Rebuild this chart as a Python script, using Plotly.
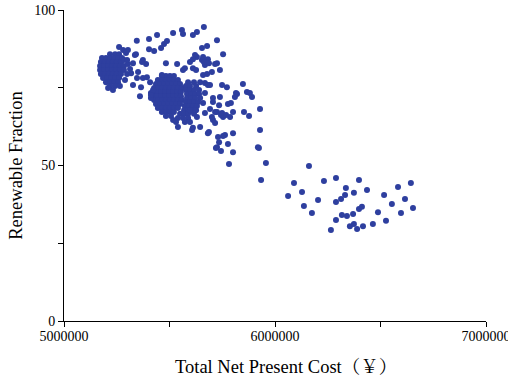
import plotly.graph_objects as go

# Total net present cost (¥) and renewable fraction (%)
# Group A: dense cluster near 5.22M
npc_a = [5218000, 5242000, 5261000,
         5180000, 5199000, 5218000, 5237000, 5256000, 5275000,
         5175000, 5194000, 5213000, 5232000, 5251000, 5270000,
         5171000, 5190000, 5209000, 5227000, 5246000, 5265000, 5284000,
         5171000, 5190000, 5209000, 5227000, 5246000, 5265000, 5284000,
         5175000, 5194000, 5213000, 5232000, 5251000, 5270000,
         5185000, 5204000, 5223000, 5242000, 5261000,
         5199000, 5218000, 5237000, 5256000,
         5218000, 5242000,
         5261000, 5280000, 5294000, 5284000, 5303000, 5299000, 5289000, 5265000, 5232000, 5209000]
rf_a = [85.8, 85.8, 85.8,
        84.6, 84.6, 84.6, 84.6, 84.6, 84.6,
        83.3, 83.3, 83.3, 83.3, 83.3, 83.3,
        82.0, 82.0, 82.0, 82.0, 82.0, 82.0, 82.0,
        80.7, 80.7, 80.7, 80.7, 80.7, 80.7, 80.7,
        79.4, 79.4, 79.4, 79.4, 79.4, 79.4,
        78.1, 78.1, 78.1, 78.1, 78.1,
        76.8, 76.8, 76.8, 76.8,
        75.6, 75.6,
        88.1, 87.1, 86.2, 83.9, 82.6, 79.4, 77.5, 75.6, 74.3, 74.9]

# Group B: dense cluster near 5.49M
npc_b = [5464000, 5483000, 5502000, 5521000,
         5445000, 5464000, 5483000, 5502000, 5521000, 5540000,
         5436000, 5455000, 5474000, 5493000, 5512000, 5531000, 5550000,
         5427000, 5445000, 5464000, 5483000, 5502000, 5521000, 5540000, 5559000,
         5422000, 5441000, 5460000, 5479000, 5498000, 5517000, 5536000, 5554000,
         5422000, 5441000, 5460000, 5479000, 5498000, 5517000, 5536000, 5554000,
         5427000, 5445000, 5464000, 5483000, 5502000, 5521000, 5540000, 5559000,
         5436000, 5455000, 5474000, 5493000, 5512000, 5531000, 5550000,
         5445000, 5464000, 5483000, 5502000, 5521000, 5540000,
         5464000, 5483000, 5502000, 5521000,
         5483000, 5507000]
rf_b = [78.8, 78.8, 78.8, 78.8,
        77.5, 77.5, 77.5, 77.5, 77.5, 77.5,
        76.2, 76.2, 76.2, 76.2, 76.2, 76.2, 76.2,
        74.9, 74.9, 74.9, 74.9, 74.9, 74.9, 74.9, 74.9,
        73.6, 73.6, 73.6, 73.6, 73.6, 73.6, 73.6, 73.6,
        72.3, 72.3, 72.3, 72.3, 72.3, 72.3, 72.3, 72.3,
        71.1, 71.1, 71.1, 71.1, 71.1, 71.1, 71.1, 71.1,
        69.8, 69.8, 69.8, 69.8, 69.8, 69.8, 69.8,
        68.5, 68.5, 68.5, 68.5, 68.5, 68.5,
        67.2, 67.2, 67.2, 67.2,
        65.9, 65.9]

# Group C: cluster near 5.6M
npc_c = [5588000, 5616000,
         5578000, 5597000, 5626000,
         5578000, 5597000, 5616000, 5640000,
         5583000, 5602000, 5621000, 5640000,
         5583000, 5602000, 5621000, 5645000,
         5578000, 5597000, 5616000, 5635000,
         5573000, 5592000, 5611000, 5630000,
         5569000, 5588000, 5607000, 5626000,
         5550000, 5569000, 5588000, 5616000,
         5540000, 5564000, 5588000,
         5531000, 5573000, 5597000]
rf_c = [76.8, 76.8,
        75.6, 75.6, 75.6,
        74.3, 74.3, 74.3, 74.3,
        73.0, 73.0, 73.0, 73.0,
        71.7, 71.7, 71.7, 71.7,
        70.4, 70.4, 70.4, 70.4,
        69.1, 69.1, 69.1, 69.1,
        67.8, 67.8, 67.8, 67.8,
        66.6, 66.6, 66.6, 66.6,
        65.3, 65.3, 65.3,
        64.0, 64.0, 64.0]

# Scattered solutions between 5.3M and 6.0M
npc_s = [5345000, 5403000, 5441000, 5474000, 5488000, 5517000, 5559000, 5564000, 5611000, 5630000,
         5663000, 5403000, 5427000, 5460000, 5341000, 5374000, 5389000, 5327000, 5318000, 5346000,
         5374000, 5327000, 5365000, 5360000, 5412000, 5412000, 5483000, 5536000, 5564000, 5597000,
         5630000, 5654000, 5678000, 5654000, 5725000, 5754000, 5725000, 5739000, 5678000, 5668000,
         5682000, 5645000, 5626000, 5772000, 5820000, 5848000, 5867000, 5881000, 5891000, 5853000,
         5877000, 5929000, 5929000, 5777000, 5754000, 5787000, 5725000, 5706000, 5687000, 5645000,
         5611000, 5540000, 5517000, 5597000, 5630000, 5730000, 5763000, 5801000, 5725000, 5919000,
         5464000, 5412000, 5791000, 5749000, 5815000, 5744000, 5716000, 5607000, 5754000, 5735000,
         5720000, 5744000, 5801000, 5924000, 5782000, 5957000, 5934000, 5682000, 5777000,
         5621000, 5611000, 5659000, 5682000, 5611000, 5668000, 5687000, 5701000, 5659000, 5573000,
         5716000, 5663000, 5692000, 5810000, 5739000, 5735000, 5706000, 5706000, 5668000, 5659000,
         5692000, 5716000, 5749000, 5768000, 5801000, 5668000, 5701000,
         5303000, 5336000, 5299000, 5370000, 5313000, 5351000, 5393000, 5408000, 5422000]
rf_s = [90.1, 90.7, 92.0, 89.1, 90.0, 92.6, 93.6, 92.3, 92.0, 92.9,
        94.5, 87.4, 86.8, 87.8, 85.8, 83.9, 82.6, 82.9, 79.7, 78.1,
        78.1, 75.9, 75.2, 72.3, 73.3, 71.7, 82.9, 82.6, 80.7, 83.3,
        84.9, 83.9, 88.4, 87.8, 90.3, 85.8, 82.9, 80.7, 79.4, 76.5,
        75.9, 76.8, 80.7, 75.2, 73.0, 76.2, 73.6, 73.3, 72.0, 67.2,
        65.9, 68.2, 61.4, 69.8, 65.6, 65.6, 67.2, 64.6, 60.8, 62.4,
        62.1, 62.4, 64.6, 67.8, 65.6, 59.2, 59.8, 60.4, 55.9, 55.9,
        79.1, 72.7, 70.1, 75.9, 73.3, 66.2, 63.7, 61.4, 59.5, 57.5,
        55.6, 54.7, 54.3, 55.6, 50.5, 50.8, 45.3, 60.4, 56.9,
        85.5, 84.2, 84.9, 84.2, 81.3, 82.3, 82.9, 80.1, 79.1, 81.3,
        82.6, 83.3, 75.9, 72.0, 72.0, 69.4, 71.7, 70.4, 73.3, 70.1,
        68.2, 67.2, 66.9, 66.2, 67.2, 66.9, 65.6,
        87.1, 85.5, 83.9, 83.3, 81.0, 80.1, 78.4, 76.8, 74.3]

# Lower-cost-tail solutions around 6.1M–6.7M
npc_l = [6161000, 6090000, 6062000, 6128000, 6137000, 6175000, 6232000, 6204000, 6289000, 6336000,
         6398000, 6436000, 6374000, 6332000, 6313000, 6289000, 6398000, 6412000, 6370000, 6341000,
         6317000, 6289000, 6265000, 6355000, 6374000, 6389000, 6417000, 6464000, 6488000, 6517000,
         6526000, 6554000, 6583000, 6597000, 6616000, 6644000, 6654000]
rf_l = [49.8, 44.4, 40.2, 41.5, 37.0, 34.7, 45.0, 38.9, 46.0, 42.8,
        45.3, 42.1, 41.2, 40.5, 39.2, 38.3, 36.0, 36.7, 34.4, 33.8,
        34.1, 32.5, 29.3, 30.5, 31.2, 29.6, 30.5, 31.2, 35.0, 40.5,
        32.2, 37.6, 43.1, 34.7, 39.2, 44.4, 36.3]

x_ticks = [5000000, 5500000, 6000000, 6500000, 7000000]
x_tick_text = ["5000000", "", "6000000", "", "7000000"]
y_ticks = [0, 25, 50, 75, 100]
y_tick_text = ["0", "", "50", "", "100"]
x_title = "Total Net Present Cost（￥）"
y_title = "Renewable Fraction"

x_all = npc_a + npc_b + npc_c + npc_s + npc_l
y_all = rf_a + rf_b + rf_c + rf_s + rf_l

serif = "Liberation Serif, Times New Roman, Noto Serif CJK SC, Noto Sans CJK SC, serif"

fig = go.Figure(go.Scatter(
    x=x_all, y=y_all, mode="markers",
    marker=dict(size=6, color="#2e3f9f", line=dict(width=0)),
    showlegend=False, cliponaxis=False,
))

fig.update_layout(
    width=508, height=377,
    margin=dict(l=64, r=22, t=10, b=56),
    paper_bgcolor="white", plot_bgcolor="white",
    font=dict(family=serif, color="black", size=14),
    annotations=[dict(
        text=x_title, xref="paper", yref="paper", x=0.526, y=-0.148,
        xanchor="center", yanchor="middle", showarrow=False,
        font=dict(family=serif, size=18.5, color="black"),
    )],
)
fig.update_xaxes(
    range=[5000000, 7000000], tickvals=x_ticks, ticktext=x_tick_text,
    showline=True, linecolor="black", linewidth=1, ticks="outside", ticklen=5,
    tickcolor="black", showgrid=False, zeroline=False, automargin=False,
    ticklabeloverflow="allow", ticklabelstandoff=-3,
    tickfont=dict(family=serif, size=14),
)
fig.update_yaxes(
    range=[0, 100], tickvals=y_ticks, ticktext=y_tick_text,
    showline=True, linecolor="black", linewidth=1, ticks="outside", ticklen=5,
    tickcolor="black", showgrid=False, zeroline=False, automargin=False,
    ticklabeloverflow="allow",
    tickfont=dict(family=serif, size=14),
    title=dict(text=y_title, font=dict(family=serif, size=18.5), standoff=6),
)

fig.write_html(
    "out.html",
    config={"displayModeBar": False},
    post_script="document.body.style.margin='0';document.body.style.overflow='hidden';",
)
